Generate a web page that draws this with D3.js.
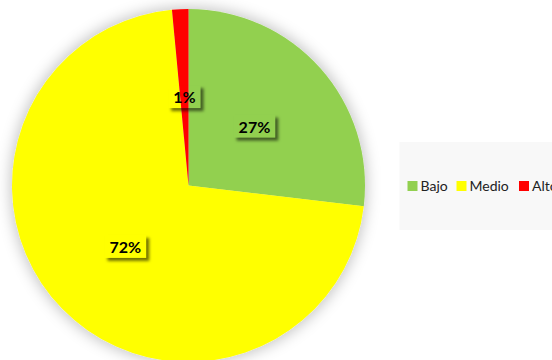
<!DOCTYPE html>
<html>
<head>
<meta charset="utf-8">
<script src="https://cdn.jsdelivr.net/npm/d3@7"></script>
<style>
  html, body { margin: 0; padding: 0; background: #fff; }
  svg { display: block; }
</style>
</head>
<body>
<svg id="chart" width="552" height="360"></svg>
<script>
// Distribution by level
const categories = ["Bajo", "Medio", "Alto"];
const counts = [18, 48, 1];
const colors = ["#92d050", "#ffff00", "#ff0000"];

const W = 552, H = 360;
const cx = 188.5, cy = 185.5, radius = 176.5;

const svg = d3.select("#chart");
const defs = svg.append("defs");

// soft grey halo around the pie
const glow = defs.append("filter").attr("id", "pieGlow")
  .attr("x", "-20%").attr("y", "-20%").attr("width", "140%").attr("height", "140%");
glow.append("feMorphology").attr("in", "SourceAlpha").attr("operator", "dilate").attr("radius", 2).attr("result", "grown");
glow.append("feGaussianBlur").attr("in", "grown").attr("stdDeviation", 7).attr("result", "blur");
glow.append("feFlood").attr("flood-color", "#000").attr("flood-opacity", 0.22);
glow.append("feComposite").attr("in2", "blur").attr("operator", "in").attr("result", "shadow");
const gm = glow.append("feMerge");
gm.append("feMergeNode").attr("in", "shadow");
gm.append("feMergeNode").attr("in", "SourceGraphic");

// outer shadow only for the transparent label boxes
const ds = defs.append("filter").attr("id", "labelShadow")
  .attr("x", "-30%").attr("y", "-30%").attr("width", "170%").attr("height", "180%");
ds.append("feGaussianBlur").attr("in", "SourceAlpha").attr("stdDeviation", 1.6).attr("result", "b");
ds.append("feOffset").attr("in", "b").attr("dx", 3).attr("dy", 3).attr("result", "o");
ds.append("feFlood").attr("flood-color", "#000").attr("flood-opacity", 0.55);
ds.append("feComposite").attr("in2", "o").attr("operator", "in").attr("result", "s");
ds.append("feComposite").attr("in", "s").attr("in2", "SourceAlpha").attr("operator", "out");

const data = categories.map((c, i) => ({ name: c, value: counts[i], color: colors[i] }));
const total = d3.sum(counts);
const fmt = d3.format(".0%");

const pie = d3.pie().value(d => d.value).sort(null);
const arcs = pie(data);
const arc = d3.arc().innerRadius(0).outerRadius(radius);
const labelArc = d3.arc().innerRadius(0).outerRadius(radius);

const g = svg.append("g").attr("transform", `translate(${cx},${cy})`);

g.append("g").attr("filter", "url(#pieGlow)")
  .selectAll("path").data(arcs).join("path")
  .attr("d", arc)
  .attr("fill", d => d.data.color);

// data labels in shadowed boxes
const lab = g.selectAll("g.lbl").data(arcs).join("g").attr("class", "lbl")
  .attr("transform", d => {
    const [x, y] = labelArc.centroid(d);
    return `translate(${x},${y})`;
  });

lab.each(function(d) {
  const sel = d3.select(this);
  const txt = sel.append("text")
    .attr("text-anchor", "middle")
    .attr("dy", "0.36em")
    .attr("font-family", "Lato, 'Open Sans', sans-serif")
    .attr("font-weight", "bold")
    .attr("font-size", 16)
    .attr("fill", "#000")
    .text(fmt(d.data.value / total));
  const bb = txt.node().getBBox();
  const padX = 5, padY = 3;
  sel.insert("rect", "text")
    .attr("x", bb.x - padX).attr("y", bb.y - padY + 1)
    .attr("width", bb.width + 2 * padX).attr("height", bb.height + 2 * padY - 2)
    .attr("fill", "#000")
    .attr("filter", "url(#labelShadow)");
});

// legend
const legend = svg.append("g");
legend.append("rect")
  .attr("x", 399.5).attr("y", 142).attr("width", 160).attr("height", 88)
  .attr("fill", "#f8f8f8");

const legendX = [407.5, 456.5, 519];
const items = legend.selectAll("g.item").data(data).join("g").attr("class", "item")
  .attr("transform", (d, i) => `translate(${legendX[i]},181)`);
items.append("rect").attr("width", 10).attr("height", 10).attr("fill", d => d.color);
items.append("text")
  .attr("x", 13).attr("y", 10)
  .attr("font-family", "Lato, 'Open Sans', sans-serif")
  .attr("font-size", 14)
  .attr("fill", "#222")
  .text(d => d.name);
</script>
</body>
</html>
